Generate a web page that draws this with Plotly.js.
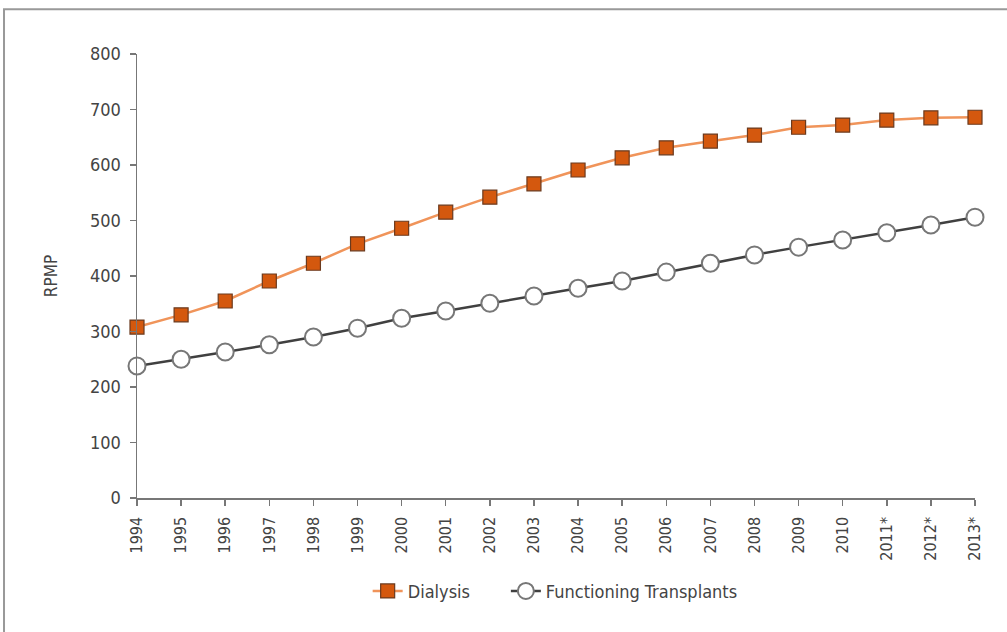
<!DOCTYPE html>
<html>
<head>
<meta charset="utf-8">
<script src="https://cdn.plot.ly/plotly-3.0.1.min.js"></script>
<style>html,body{margin:0;padding:0;background:#fff;}#chart{width:1007px;height:632px;}</style>
</head>
<body>
<div id="chart"></div>
<script>
const years = ["1994","1995","1996","1997","1998","1999","2000","2001","2002","2003","2004","2005","2006","2007","2008","2009","2010","2011*","2012*","2013*"];
const dialysis = [308,330,355,391,423,458,486,515,542,566,591,613,631,643,654,668,672,681,685,686];
const transplants = [238,250,263,276,290,306,324,337,351,364,378,391,407,423,438,452,465,478,492,506];
const yTicks = [0,100,200,300,400,500,600,700,800];
const seriesNames = ["Dialysis", "Functioning Transplants"];

const fontFam = "'DejaVu Sans Condensed', 'Liberation Sans Narrow', 'Liberation Sans', Arial, sans-serif";
const pad = "\u00a0\u00a0\u00a0\u00a0\u00a0\u00a0";

const data = [
  {
    x: years, y: dialysis, type: 'scatter', mode: 'lines+markers', name: seriesNames[0] + pad,
    line: {color: '#F0945A', width: 2.5},
    marker: {symbol: 'square', size: 14, color: '#D4580E', line: {color: '#6B3A1E', width: 1.2}},
    cliponaxis: false
  },
  {
    x: years, y: transplants, type: 'scatter', mode: 'lines+markers', name: seriesNames[1],
    line: {color: '#404040', width: 2.5},
    marker: {symbol: 'circle', size: 17, color: '#ffffff', line: {color: '#777777', width: 2}},
    cliponaxis: false
  }
];

const layout = {
  width: 1007, height: 632,
  margin: {l: 137, r: 32, t: 54, b: 134},
  paper_bgcolor: '#ffffff', plot_bgcolor: '#ffffff',
  font: {family: fontFam, size: 17, color: '#444'},
  showlegend: true,
  legend: {orientation: 'h', x: 0.499, xanchor: 'center', y: -0.21, yanchor: 'middle',
           font: {family: fontFam, size: 18, color: '#444'}, itemwidth: 30},
  xaxis: {
    type: 'category', range: [0, years.length - 1],
    showgrid: false, zeroline: false,
    showline: true, linecolor: '#777', linewidth: 1.5,
    ticks: 'outside', ticklen: 6, tickcolor: '#777', tickwidth: 1.5,
    tickangle: -90, tickfont: {family: fontFam, size: 16, color: '#444'},
    ticklabelstandoff: 5,
    fixedrange: true
  },
  yaxis: {
    range: [0, 800], tickvals: yTicks,
    showgrid: false, zeroline: false,
    showline: true, linecolor: '#777', linewidth: 1.5,
    ticks: 'outside', ticklen: 6, tickcolor: '#777', tickwidth: 1.5,
    tickfont: {family: fontFam, size: 18, color: '#444'},
    ticklabelstandoff: 5,
    title: {text: 'RPMP', font: {family: fontFam, size: 17, color: '#444'}, standoff: 28},
    fixedrange: true
  },
  shapes: [
    {type: 'rect', xref: 'paper', yref: 'paper', x0: -0.1587, x1: 1.06, y0: -0.35, y1: 1.101,
     line: {color: '#999', width: 2}, fillcolor: 'rgba(0,0,0,0)', layer: 'below'}
  ]
};

Plotly.newPlot('chart', data, layout, {displayModeBar: false, staticPlot: true});
</script>
</body>
</html>
